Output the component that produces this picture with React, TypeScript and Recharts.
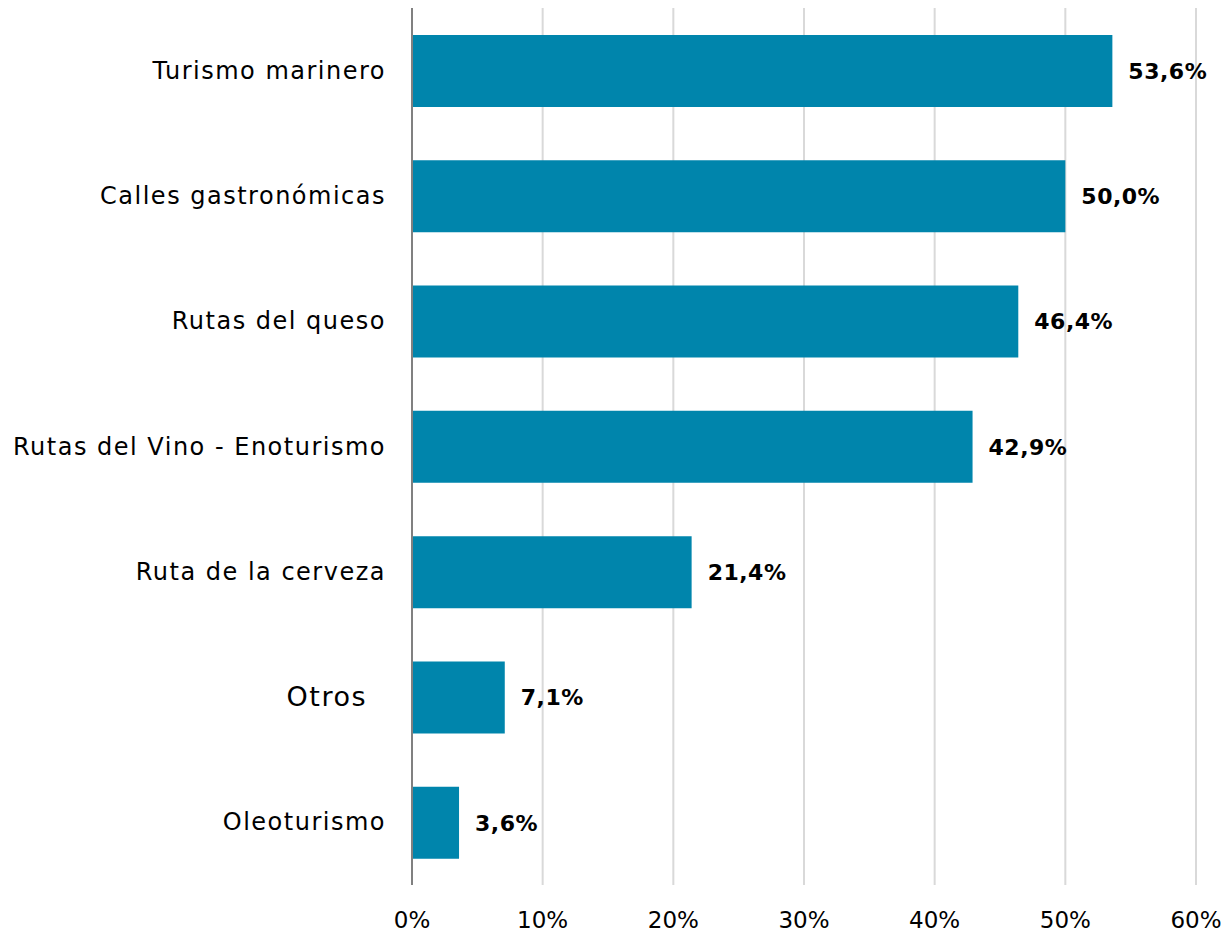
import { BarChart, Bar, XAxis, YAxis, CartesianGrid, LabelList } from "recharts";

const categories = [
  "Turismo marinero",
  "Calles gastronómicas",
  "Rutas del queso",
  "Rutas del Vino - Enoturismo",
  "Ruta de la cerveza",
  "Otros",
  "Oleoturismo",
];

const values = [53.6, 50.0, 46.4, 42.9, 21.4, 7.1, 3.6];

const xTicks = [0, 10, 20, 30, 40, 50, 60];

const data = categories.map((name, i) => ({ name, value: values[i] }));

const FONT = "'DejaVu Sans', sans-serif";

const CategoryTick = ({ x, y, payload }: any) => {
  const isOtros = payload.value === "Otros";
  return (
    <text
      x={isOtros ? x - 19 : x}
      y={y}
      dy={isOtros ? 9 : 8}
      textAnchor="end"
      fill="#000"
      fontFamily={FONT}
      fontSize={isOtros ? 27 : 24}
      letterSpacing={1.5}
    >
      {payload.value}
    </text>
  );
};

const fmt = (v: number) => v.toFixed(1).replace(".", ",") + "%";

export default function App() {
  return (
    <div style={{ position: "absolute", left: 0, top: 0 }}>
      <BarChart
        width={1227}
        height={933}
        data={data}
        layout="vertical"
        margin={{ top: 8, right: 31, bottom: 0, left: 0 }}
      >
        <CartesianGrid horizontal={false} stroke="#d9d9d9" strokeWidth={2} />
        <XAxis
          type="number"
          domain={[0, 60]}
          ticks={xTicks}
          tickFormatter={(v) => `${v}%`}
          height={48}
          axisLine={false}
          tickLine={false}
          tickMargin={21}
          tick={{ fill: "#000", fontSize: 23, fontFamily: FONT }}
        />
        <YAxis
          type="category"
          dataKey="name"
          width={412}
          axisLine={{ stroke: "#808080", strokeWidth: 2 }}
          tickLine={false}
          tickSize={0}
          tickMargin={26}
          tick={<CategoryTick />}
        />
        <Bar dataKey="value" fill="#0085AC" barSize={72} isAnimationActive={false}>
          <LabelList
            dataKey="value"
            position="right"
            offset={16}
            formatter={(v: any) => fmt(Number(v))}
            fill="#000"
            fontWeight="bold"
            fontSize={22}
            letterSpacing={0.5}
            fontFamily={FONT}
          />
        </Bar>
      </BarChart>
    </div>
  );
}
